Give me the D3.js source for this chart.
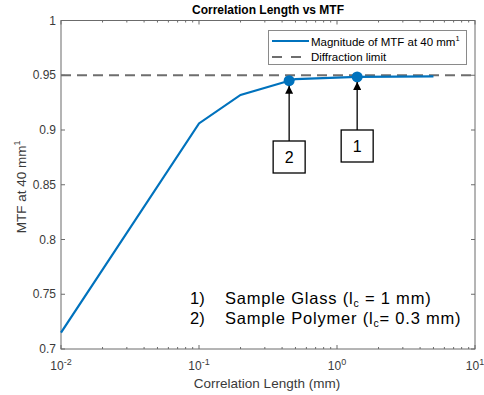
<!DOCTYPE html>
<html><head><meta charset="utf-8">
<script src="https://cdn.jsdelivr.net/npm/d3@7"></script>
<style>body{margin:0;background:#fff}text{font-family:"Liberation Sans",Arial,sans-serif}</style>
</head><body><svg id="c" width="484" height="395"></svg>
<script>
const corrLength = [0.01, 0.1, 0.2, 0.45, 0.5, 1.4, 5];
const mtfValues = [0.715, 0.906, 0.932, 0.945, 0.9465, 0.9485, 0.949];
const markedLength = [1.4, 0.45];
const markedMTF = [0.9485, 0.945];
const markedLabels = ["1", "2"];
const diffractionLimit = 0.95;
const yTicks = [0.7, 0.75, 0.8, 0.85, 0.9, 0.95, 1];
const xTicks = [0.01, 0.1, 1, 10];
const xTickExp = ["-2", "-1", "0", "1"];

const svg = d3.select("#c");
const L = 61, R = 475, T = 20.5, B = 349;
const x = d3.scaleLog().domain([0.01, 10]).range([L, R]);
const y = d3.scaleLinear().domain([0.7, 1]).range([B, T]);
const ax = "#3a3a3a";

// box
svg.append("rect").attr("x", L).attr("y", T).attr("width", R - L).attr("height", B - T)
  .attr("fill", "#fff").attr("stroke", "#6b6b6b").attr("stroke-width", 1);

// ticks
const minor = [];
for (let d = 0.01; d < 10; d *= 10) for (let k = 2; k <= 9; k++) minor.push(d * k);
const gT = svg.append("g").attr("stroke", "#6b6b6b").attr("stroke-width", 1);
xTicks.forEach(v => {
  gT.append("line").attr("x1", x(v)).attr("x2", x(v)).attr("y1", B).attr("y2", B - 4);
  gT.append("line").attr("x1", x(v)).attr("x2", x(v)).attr("y1", T).attr("y2", T + 4);
});
minor.forEach(v => {
  gT.append("line").attr("x1", x(v)).attr("x2", x(v)).attr("y1", B).attr("y2", B - 2);
  gT.append("line").attr("x1", x(v)).attr("x2", x(v)).attr("y1", T).attr("y2", T + 2);
});
yTicks.forEach(v => {
  gT.append("line").attr("x1", L).attr("x2", L + 4).attr("y1", y(v)).attr("y2", y(v));
  gT.append("line").attr("x1", R).attr("x2", R - 4).attr("y1", y(v)).attr("y2", y(v));
});

// tick labels
yTicks.forEach(v => {
  svg.append("text").attr("x", L - 5).attr("y", y(v) + 4).attr("text-anchor", "end")
    .attr("font-size", 12).attr("fill", ax).text(String(v));
});
xTicks.forEach((v, i) => {
  const t = svg.append("text").attr("x", x(v)).attr("y", B + 21).attr("text-anchor", "middle")
    .attr("font-size", 12).attr("fill", ax);
  t.append("tspan").text("10");
  t.append("tspan").attr("dy", -5).attr("font-size", 9).text(xTickExp[i]);
});

// title & labels
svg.append("text").attr("x", 268).attr("y", 14).attr("text-anchor", "middle")
  .attr("font-size", 12).attr("font-weight", "bold").attr("fill", "#000").text("Correlation Length vs MTF");
svg.append("text").attr("x", 267).attr("y", 388).attr("text-anchor", "middle")
  .attr("font-size", 13.5).attr("fill", ax).text("Correlation Length (mm)");
const yl = svg.append("text").attr("transform", `translate(26,${(T + B) / 2 + 2}) rotate(-90)`)
  .attr("text-anchor", "middle").attr("font-size", 13.5).attr("fill", ax);
yl.append("tspan").text("MTF at 40 mm");
yl.append("tspan").attr("dy", -6).attr("font-size", 9).text("1");

// diffraction limit
svg.append("line").attr("x1", L).attr("x2", R).attr("y1", y(diffractionLimit)).attr("y2", y(diffractionLimit))
  .attr("stroke", "#6e6e6e").attr("stroke-width", 2).attr("stroke-dasharray", "10,6");

// main line
const pts = corrLength.map((c, i) => [c, mtfValues[i]]);
svg.append("path").datum(pts)
  .attr("d", d3.line().x(d => x(d[0])).y(d => y(d[1])))
  .attr("fill", "none").attr("stroke", "#0072BD").attr("stroke-width", 2.2);
markedLength.forEach((c, i) => {
  svg.append("circle").attr("cx", x(c)).attr("cy", y(markedMTF[i])).attr("r", 5.5).attr("fill", "#0072BD");
});

// arrows and boxes
const boxTop = [130, 141];
svg.append("defs").append("marker").attr("id", "ah").attr("viewBox", "0 0 10 10").attr("refX", 10).attr("refY", 5)
  .attr("markerWidth", 8).attr("markerHeight", 8).attr("markerUnits", "userSpaceOnUse").attr("orient", "auto")
  .append("path").attr("d", "M0,0L10,5L0,10Z").attr("fill", "#000");
markedLength.forEach((c, i) => {
  const cx = x(c);
  svg.append("line").attr("x1", cx).attr("x2", cx).attr("y1", boxTop[i]).attr("y2", y(markedMTF[i]) + 5)
    .attr("stroke", "#000").attr("stroke-width", 1.3).attr("marker-end", "url(#ah)");
  svg.append("rect").attr("x", cx - 16).attr("y", boxTop[i]).attr("width", 32).attr("height", 32)
    .attr("fill", "#fff").attr("stroke", "#000").attr("stroke-width", 1.3);
  svg.append("text").attr("x", cx).attr("y", boxTop[i] + 22).attr("text-anchor", "middle")
    .attr("font-size", 16).attr("font-family", "'Open Sans', sans-serif").attr("fill", "#000").text(markedLabels[i]);
});

// legend
const lg = svg.append("g");
lg.append("rect").attr("x", 268.5).attr("y", 30.5).attr("width", 198).attr("height", 34)
  .attr("fill", "#fff").attr("stroke", "#8a8a8a").attr("stroke-width", 1);
lg.append("line").attr("x1", 272).attr("x2", 309).attr("y1", 41).attr("y2", 41).attr("stroke", "#0072BD").attr("stroke-width", 2.2);
lg.append("line").attr("x1", 272).attr("x2", 309).attr("y1", 57).attr("y2", 57).attr("stroke", "#6e6e6e")
  .attr("stroke-width", 2.2).attr("stroke-dasharray", "10,9");
const t1 = lg.append("text").attr("x", 311).attr("y", 45.5).attr("font-size", 11.5).attr("fill", "#000");
t1.append("tspan").text("Magnitude of MTF at 40 mm");
t1.append("tspan").attr("dy", -5).attr("font-size", 7.5).text("1");
lg.append("text").attr("x", 311).attr("y", 61).attr("font-size", 11.5).attr("fill", "#000").text("Diffraction limit");

// annotation
const af = "'Liberation Sans', Arial, sans-serif";
const lines = [["1)", "Sample Glass (l", "c", " = 1 mm)"], ["2)", "Sample Polymer (l", "c", "= 0.3 mm)"]];
lines.forEach((ln, i) => {
  const yy = 304 + i * 19.5;
  svg.append("text").attr("x", 190).attr("y", yy).attr("font-size", 16.5).attr("font-family", af).attr("fill", "#000").text(ln[0]);
  const t = svg.append("text").attr("x", 225).attr("y", yy).attr("font-size", 16.5).attr("font-family", af)
    .attr("letter-spacing", 0.8).attr("fill", "#000");
  t.append("tspan").text(ln[1]);
  t.append("tspan").attr("dy", 3).attr("font-size", 10.5).text(ln[2]);
  t.append("tspan").attr("dy", -3).text(ln[3]);
});
</script></body></html>
